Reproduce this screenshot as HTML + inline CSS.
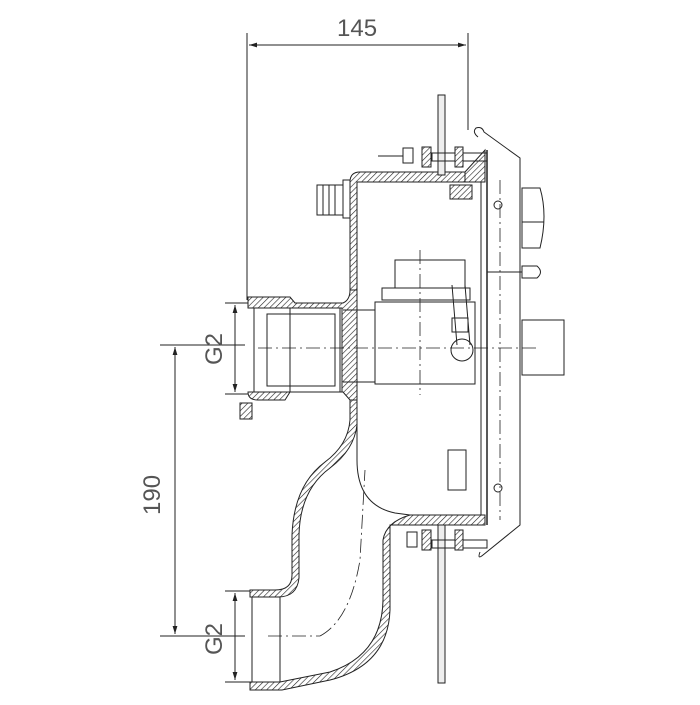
<!DOCTYPE html>
<html><head><style>html,body{margin:0;padding:0;background:#fff}</style></head><body>
<svg width="700" height="700" viewBox="0 0 700 700" xmlns="http://www.w3.org/2000/svg" font-family="Liberation Sans, sans-serif">
<defs>
<pattern id="h" width="4" height="4" patternUnits="userSpaceOnUse" patternTransform="rotate(45)">
<rect width="4" height="4" fill="#fff"/><line x1="0" y1="0" x2="0" y2="4" stroke="#222" stroke-width="1.2"/></pattern>
<marker id="a" viewBox="0 0 10 10" refX="10" refY="5" markerWidth="8" markerHeight="8" orient="auto-start-reverse"><path d="M0,2 L10,5 L0,8 z" fill="#222"/></marker>
</defs>
<g stroke="#222" stroke-width="1" fill="none">
<line x1="247" y1="33" x2="247" y2="300"/>
<line x1="468" y1="33" x2="468" y2="130"/>
<line x1="249" y1="45" x2="466" y2="45" marker-start="url(#a)" marker-end="url(#a)"/>
<line x1="160" y1="345" x2="245" y2="345"/>
<line x1="160" y1="636" x2="245" y2="636"/>
<line x1="175" y1="347" x2="175" y2="634" marker-start="url(#a)" marker-end="url(#a)"/>
<line x1="225" y1="303" x2="250" y2="303"/>
<line x1="225" y1="394" x2="250" y2="394"/>
<line x1="235" y1="305" x2="235" y2="392" marker-start="url(#a)" marker-end="url(#a)"/>
<line x1="225" y1="591" x2="252" y2="591"/>
<line x1="225" y1="682" x2="252" y2="682"/>
<line x1="235" y1="593" x2="235" y2="680" marker-start="url(#a)" marker-end="url(#a)"/>

<path d="M350,300 L350,182 Q350,172 360,172 L485,172 L485,182 L357,182 L357,300 Z" fill="url(#h)"/>
<path d="M465,172 L485,150 L485,182 L465,182 Z" fill="url(#h)"/>
<rect x="317" y="185" width="26" height="30"/>
<line x1="323" y1="185" x2="323" y2="215"/><line x1="329" y1="185" x2="329" y2="215"/><line x1="335" y1="185" x2="335" y2="215"/>
<rect x="343" y="180" width="7" height="38"/>
<line x1="481" y1="182" x2="481" y2="520"/>
<line x1="487" y1="150" x2="487" y2="525" stroke-width="1.5"/>
<path d="M478,137 Q472,132 476,128 Q482,126 484,132 L520,158 L520,525 L483,555 Q477,560 480,552"/>
<rect x="438" y="95" width="7" height="80" fill="#eee"/>
<rect x="438" y="525" width="7" height="158" fill="#eee"/>
<rect x="432" y="153" width="55" height="8"/>
<rect x="432" y="540" width="55" height="8"/>
<rect x="422" y="147" width="9" height="20" fill="url(#h)"/>
<rect x="455" y="147" width="8" height="20" fill="url(#h)"/>
<rect x="403" y="148" width="10" height="15"/>
<rect x="422" y="530" width="9" height="20" fill="url(#h)"/>
<rect x="455" y="530" width="8" height="20" fill="url(#h)"/>
<rect x="407" y="532" width="10" height="15"/>
<line x1="378" y1="156" x2="403" y2="156"/>
<rect x="450" y="185" width="22" height="14" fill="url(#h)"/>
<path d="M522,188 L540,188 Q548,215 540,248 L522,248 Z"/>
<line x1="522" y1="222" x2="544" y2="222"/>
<line x1="487" y1="272" x2="522" y2="272"/>
<path d="M522,266 L537,266 Q544,272 537,278 L522,278 Z"/>
<rect x="522" y="320" width="42" height="55"/>
<rect x="395" y="260" width="70" height="28"/>
<rect x="382" y="288" width="88" height="12"/>
<rect x="375" y="302" width="100" height="82"/>
<path d="M465,285 L470,345 M452,285 L457,345"/>
<circle cx="462" cy="350" r="11"/>
<rect x="452" y="318" width="16" height="14"/>
<path d="M248,308 L248,297 L290,297 L295,303 L343,303 Q350,300 350,290 L357,290 L357,400 L350,400 L343,392 L290,392 L285,400 L258,400 Q248,400 248,392 L254,392 L254,308 Z" fill="url(#h)"/>
<rect x="254" y="308" width="88" height="84" fill="#fff"/>
<rect x="267" y="314" width="68" height="72"/>
<line x1="290" y1="308" x2="290" y2="392"/>
<line x1="340" y1="308" x2="340" y2="392"/>
<line x1="343" y1="310" x2="375" y2="310"/>
<line x1="343" y1="382" x2="375" y2="382"/>
<rect x="240" y="403" width="12" height="16" fill="url(#h)"/>
<!-- inner body right corner -->
<path d="M357,400 L357,460 Q357,505 395,513 L410,515"/>
<!-- left upper pipe wall -->
<path d="M350,400 L357,400 L357,425 Q354,450 330,468 Q300,490 299,535 L299,578 Q297,597 278,597 L250,597 L250,590 L275,590 Q292,590 292,575 L292,535 Q294,485 325,462 Q348,445 350,420 Z" fill="url(#h)"/>
<!-- right lower pipe wall -->
<path d="M390,525 L390,610 Q388,665 330,680 L282,690 L250,690 L250,682 L280,682 L330,672 Q382,655 383,600 L383,540 Q386,522 410,515 L485,515 L485,525 Z" fill="url(#h)"/>
<rect x="252" y="597" width="28" height="85" fill="#fff"/>
<line x1="280" y1="597" x2="280" y2="682"/>
<rect x="448" y="450" width="18" height="40"/>
<circle cx="498" cy="205" r="4"/><circle cx="498" cy="488" r="4"/>
</g>
<g stroke="#222" stroke-width="0.8" stroke-dasharray="14,4,2,4" fill="none">
<line x1="258" y1="348" x2="540" y2="348"/>
<line x1="420" y1="250" x2="420" y2="395"/>
<line x1="500" y1="180" x2="500" y2="520"/>
<line x1="268" y1="636" x2="320" y2="636"/>
<path d="M320,636 Q350,620 360,560 L365,470"/>
</g>
<g fill="#555" font-size="24">
<text x="337" y="36">145</text>
<text transform="translate(222,365) rotate(-90)">G2</text>
<text transform="translate(160,515) rotate(-90)">190</text>
<text transform="translate(222,655) rotate(-90)">G2</text>
</g>
</svg>
</body></html>
